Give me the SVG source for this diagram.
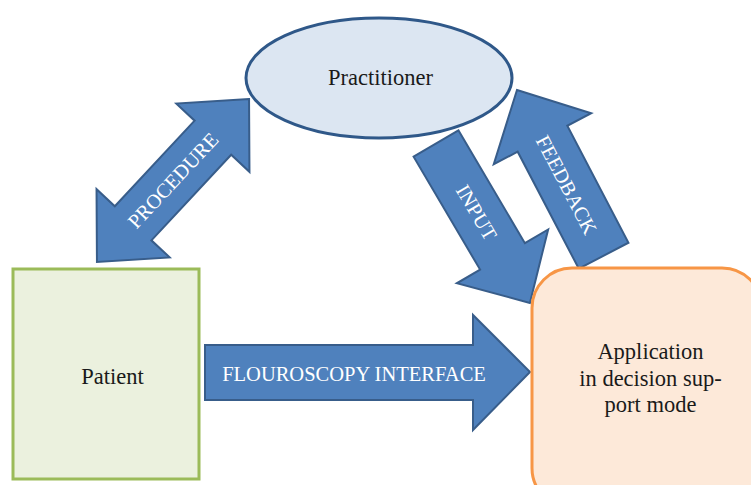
<svg xmlns="http://www.w3.org/2000/svg" width="751" height="485" viewBox="0 0 751 485">
<style>
.arrow{fill:#4f81bd;stroke:#385d8a;stroke-width:2;stroke-linejoin:miter}
.alabel{fill:#ffffff;font-family:'Liberation Serif','Times New Roman',Times,serif;font-size:20.5px;text-anchor:middle;dominant-baseline:central}
.label{fill:#1a1a1a;font-family:'Liberation Serif','Times New Roman',Times,serif;font-size:22.5px;text-anchor:middle}
</style>
<rect width="751" height="485" fill="#ffffff"/>
<g id="connectors">
  <g id="procedure" transform="translate(173,180.5) rotate(-47)">
    <polygon class="arrow" points="111.5,0 58.5,-50 58.5,-25 -58.5,-25 -58.5,-50 -111.5,0 -58.5,50 -58.5,25 58.5,25 58.5,50"/>
    <text class="alabel" x="0" y="0">PROCEDURE</text>
  </g>
  <g id="input" transform="translate(436,143.5) rotate(59.5)">
    <polygon class="arrow" points="0,-26 131,-26 131,-53 185,0 131,53 131,26 0,26"/>
    <text class="alabel" x="80" y="0">INPUT</text>
  </g>
  <g id="feedback" transform="translate(517,90) rotate(62.4)">
    <polygon class="arrow" points="0,0 55,-55 55,-28 187,-28 187,28 55,28 55,55"/>
    <text class="alabel" x="107" y="0">FEEDBACK</text>
  </g>
  <g id="flouroscopy">
    <polygon class="arrow" points="205,345 473,345 473,315 530,372 473,430 473,400 205,400"/>
    <text class="alabel" x="354" y="374">FLOUROSCOPY INTERFACE</text>
  </g>
</g>
<g id="practitioner">
  <ellipse cx="379" cy="78" rx="133" ry="60" fill="#dce6f2" stroke="#2f5889" stroke-width="3"/>
  <text class="label" x="380.5" y="85">Practitioner</text>
</g>
<g id="patient">
  <rect x="13" y="269" width="186" height="210" fill="#ebf1de" stroke="#9bbb59" stroke-width="3"/>
  <text class="label" x="112.5" y="384">Patient</text>
</g>
<g id="application">
  <rect x="532" y="268" width="230" height="240" rx="40" ry="40" fill="#fde9d9" stroke="#f79646" stroke-width="3"/>
  <text class="label" x="650.5" y="359">Application</text>
  <text class="label" x="650.5" y="385.5">in decision sup-</text>
  <text class="label" x="650.5" y="412">port mode</text>
</g>
</svg>
